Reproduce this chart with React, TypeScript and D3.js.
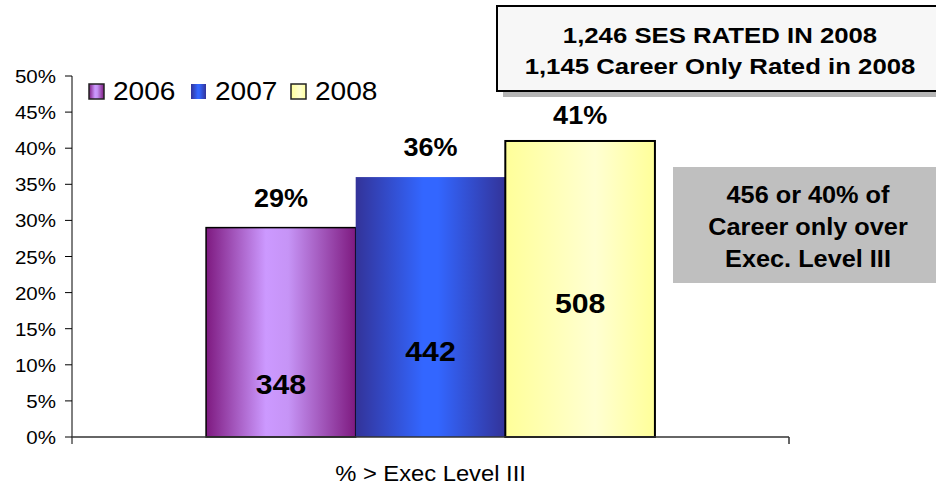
import React from "react";
import * as d3 from "d3";

const categories = ["% > Exec Level III"];
const years = ["2006", "2007", "2008"];
const percentValues = [0.29, 0.36, 0.41];
const countValues = [348, 442, 508];
const countLabelAt = [0.06, 0.105, 0.172];
const yTicks = [0, 0.05, 0.1, 0.15, 0.2, 0.25, 0.3, 0.35, 0.4, 0.45, 0.5];
const boxLines = ["1,246 SES RATED IN 2008", "1,145 Career Only Rated in 2008"];
const noteLines = ["456 or 40% of", "Career only over", "Exec. Level III"];

const W = 936;
const H = 486;
const M = { left: 72, right: 789, top: 76, bottom: 437 };

const gradients = [
  { id: "g2006", stops: [["0%", "#7E1A80"], ["40%", "#CC99FF"], ["55%", "#C694F6"], ["100%", "#7E1A80"]], stroke: "#000", sw: 1.5 },
  { id: "g2007", stops: [["0%", "#333399"], ["45%", "#3366FF"], ["55%", "#3366FF"], ["100%", "#333399"]], stroke: "none", sw: 0 },
  { id: "g2008", stops: [["0%", "#FFFF99"], ["60%", "#FFFFD2"], ["100%", "#FFFF99"]], stroke: "#000", sw: 2 },
];

const SX = 1.08;

function T({ x, y, size, bold, anchor = "start", children, sx = SX }: any) {
  return (
    <text
      transform={`translate(${x},${y}) scale(${sx},1)`}
      fontFamily="Liberation Sans, Arial, sans-serif"
      fontSize={size}
      fontWeight={bold ? "bold" : "normal"}
      textAnchor={anchor}
      fill="#000"
    >
      {children}
    </text>
  );
}

export default function App() {
  const y = d3.scaleLinear().domain([0, 0.5]).range([M.bottom, M.top]);
  const x0 = d3.scaleBand().domain(categories).range([M.left, M.right]).paddingInner(0.23).paddingOuter(0.23);
  const x1 = d3.scaleBand().domain(years).range([0, x0.bandwidth()]).padding(0);
  const fmt = d3.format(".0%");

  return (
    <svg width={W} height={H} style={{ position: "absolute", left: 0, top: 0 }}>
      <defs>
        {gradients.map((g) => (
          <linearGradient key={g.id} id={g.id} x1="0" x2="1" y1="0" y2="0">
            {g.stops.map(([o, c]) => (
              <stop key={o} offset={o} stopColor={c} />
            ))}
          </linearGradient>
        ))}
      </defs>
      <rect width={W} height={H} fill="#fff" />

      {/* y axis */}
      <line x1={M.left} x2={M.left} y1={M.top} y2={M.bottom + 7} stroke="#000" strokeWidth={1} />
      {yTicks.map((t) => (
        <g key={t}>
          <line x1={M.left - 7} x2={M.left} y1={y(t)} y2={y(t)} stroke="#000" />
          <T x={56} y={y(t) + 7} size={19} anchor="end">
            {fmt(t)}
          </T>
        </g>
      ))}

      {/* bars */}
      {categories.map((c) =>
        years.map((yr, i) => {
          const g = gradients[i];
          const bx = (x0(c) as number) + (x1(yr) as number);
          const bw = x1.bandwidth();
          const cx = bx + bw / 2;
          return (
            <g key={yr}>
              <rect
                x={bx}
                y={y(percentValues[i])}
                width={bw}
                height={y(0) - y(percentValues[i])}
                fill={`url(#${g.id})`}
                stroke={g.stroke}
                strokeWidth={g.sw}
              />
              <T x={cx} y={y(percentValues[i]) - (i === 2 ? 17 : 21)} size={25} bold anchor="middle">
                {fmt(percentValues[i])}
              </T>
              <T x={cx} y={y(countLabelAt[i])} size={28} bold anchor="middle">
                {countValues[i]}
              </T>
            </g>
          );
        })
      )}

      {/* x axis */}
      <line x1={M.left} x2={M.right} y1={M.bottom} y2={M.bottom} stroke="#333" strokeWidth={1.5} />
      <line x1={M.right} x2={M.right} y1={M.bottom} y2={M.bottom + 7} stroke="#333" strokeWidth={1.5} />
      {categories.map((c) => (
        <T key={c} x={(x0(c) as number) + x0.bandwidth() / 2} y={481} size={22} anchor="middle">
          {c}
        </T>
      ))}

      {/* legend */}
      {years.map((yr, i) => {
        const lx = [89, 191, 291][i];
        const g = gradients[i];
        return (
          <g key={yr}>
            <rect x={lx} y={84} width={15} height={15} fill={`url(#${g.id})`} stroke={g.stroke === "none" ? "none" : "#222"} strokeWidth={1.5} />
            <T x={lx + 24} y={100} size={26}>
              {yr}
            </T>
          </g>
        );
      })}

      {/* top box */}
      <rect x={503} y={12} width={450} height={85} fill="#B4B4B4" />
      <rect x={497} y={6} width={450} height={85} fill="#F7F7F7" stroke="#000" strokeWidth={2} />
      {boxLines.map((l, i) => (
        <T key={l} x={720} y={43 + i * 31} size={23} bold anchor="middle" sx={1.12}>
          {l}
        </T>
      ))}

      {/* gray note */}
      <rect x={673} y={167} width={270} height={116} fill="#BFBFBF" />
      {noteLines.map((l, i) => (
        <T key={l} x={808} y={203 + i * 32} size={23} bold anchor="middle" sx={1.1}>
          {l}
        </T>
      ))}
    </svg>
  );
}
